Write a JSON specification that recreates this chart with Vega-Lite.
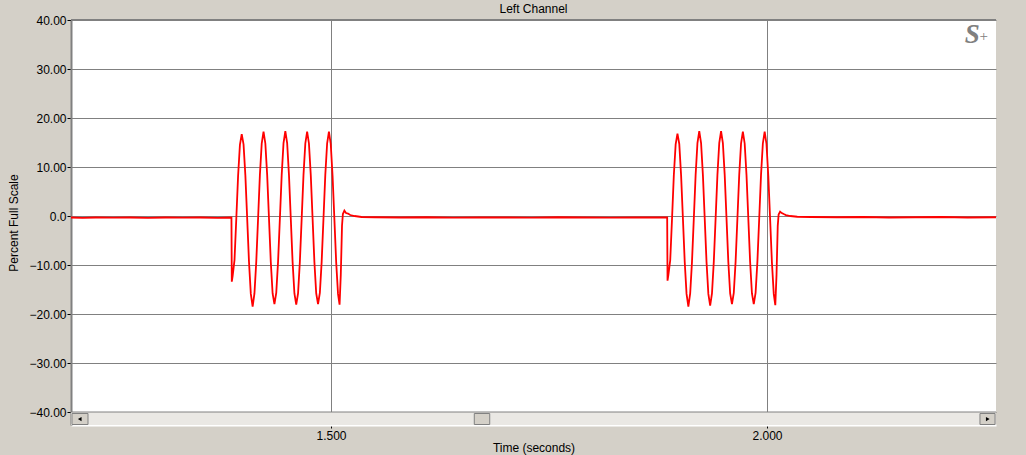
{
  "$schema": "https://vega.github.io/schema/vega-lite/v6.json",
  "autosize": {"type": "none"},
  "padding": {"left": 71, "top": 20, "right": 30, "bottom": 30},
  "width": 925,
  "height": 405,
  "background": "#D4D0C8",
  "title": {"text": "Left Channel", "fontSize": 12, "fontWeight": "normal", "font": "Liberation Sans", "color": "black", "anchor": "middle", "frame": "group", "offset": 6, "dy": 8},
  "datasets": {
    "wave": [
      {"t": 1.2018, "v": -0.3}, {"t": 1.215, "v": -0.4}, {"t": 1.23, "v": -0.3}, {"t": 1.25, "v": -0.35}, {"t": 1.27, "v": -0.3}, {"t": 1.29, "v": -0.4}, {"t": 1.31, "v": -0.3}, {"t": 1.33, "v": -0.35}, {"t": 1.35, "v": -0.3}, {"t": 1.37, "v": -0.4}, {"t": 1.3858, "v": -0.3},
      {"t": 1.3862, "v": -13.4}, {"t": 1.3872, "v": -12.2}, {"t": 1.3893, "v": -9.0}, {"t": 1.39135, "v": -0.6}, {"t": 1.39343, "v": 8.2}, {"t": 1.39552, "v": 14.5},
      {"t": 1.3976, "v": 16.7}, {"t": 1.39968, "v": 14.6}, {"t": 1.40177, "v": 8.3}, {"t": 1.40385, "v": -0.5}, {"t": 1.40593, "v": -9.4}, {"t": 1.40802, "v": -15.9},
      {"t": 1.4101, "v": -18.5}, {"t": 1.41218, "v": -15.8}, {"t": 1.41427, "v": -9.3}, {"t": 1.41635, "v": -0.5}, {"t": 1.41843, "v": 8.4}, {"t": 1.42052, "v": 14.8},
      {"t": 1.4226, "v": 17.2}, {"t": 1.42468, "v": 14.8}, {"t": 1.42677, "v": 8.4}, {"t": 1.42885, "v": -0.5}, {"t": 1.43093, "v": -9.4}, {"t": 1.43302, "v": -15.8},
      {"t": 1.4351, "v": -18.0}, {"t": 1.43718, "v": -15.7}, {"t": 1.43927, "v": -9.3}, {"t": 1.44135, "v": -0.5}, {"t": 1.44343, "v": 8.4}, {"t": 1.44552, "v": 14.9},
      {"t": 1.4476, "v": 17.3}, {"t": 1.44968, "v": 14.9}, {"t": 1.45177, "v": 8.4}, {"t": 1.45385, "v": -0.5}, {"t": 1.45593, "v": -9.4}, {"t": 1.45802, "v": -15.8},
      {"t": 1.4601, "v": -18.1}, {"t": 1.46218, "v": -15.8}, {"t": 1.46427, "v": -9.3}, {"t": 1.46635, "v": -0.5}, {"t": 1.46843, "v": 8.4}, {"t": 1.47052, "v": 14.8},
      {"t": 1.4726, "v": 17.2}, {"t": 1.47468, "v": 14.8}, {"t": 1.47677, "v": 8.4}, {"t": 1.47885, "v": -0.5}, {"t": 1.48093, "v": -9.4}, {"t": 1.48302, "v": -15.8},
      {"t": 1.4851, "v": -18.0}, {"t": 1.48718, "v": -15.7}, {"t": 1.48927, "v": -9.3}, {"t": 1.49135, "v": -0.5}, {"t": 1.49343, "v": 8.4}, {"t": 1.49552, "v": 14.8},
      {"t": 1.4976, "v": 17.2}, {"t": 1.49968, "v": 14.7}, {"t": 1.50177, "v": 8.2}, {"t": 1.50385, "v": -0.6}, {"t": 1.50593, "v": -9.5}, {"t": 1.50802, "v": -15.9},
      {"t": 1.5098, "v": -18.1}, {"t": 1.5112, "v": -12.0}, {"t": 1.5126, "v": -2.0}, {"t": 1.5136, "v": 0.4}, {"t": 1.5153, "v": 1.1}, {"t": 1.5172, "v": 0.6}, {"t": 1.5195, "v": 0.5}, {"t": 1.522, "v": 0.2}, {"t": 1.527, "v": 0.0}, {"t": 1.535, "v": -0.2},
      {"t": 1.55, "v": -0.25}, {"t": 1.58, "v": -0.3}, {"t": 1.61, "v": -0.25}, {"t": 1.64, "v": -0.35}, {"t": 1.67, "v": -0.3}, {"t": 1.7, "v": -0.3}, {"t": 1.73, "v": -0.35}, {"t": 1.76, "v": -0.25}, {"t": 1.79, "v": -0.3}, {"t": 1.82, "v": -0.35}, {"t": 1.85, "v": -0.3}, {"t": 1.87, "v": -0.3}, {"t": 1.8855, "v": -0.3},
      {"t": 1.8859, "v": -13.2}, {"t": 1.8869, "v": -12.0}, {"t": 1.889, "v": -9.0}, {"t": 1.89105, "v": -0.6}, {"t": 1.89313, "v": 8.3}, {"t": 1.89522, "v": 14.6},
      {"t": 1.8973, "v": 16.8}, {"t": 1.89938, "v": 14.7}, {"t": 1.90147, "v": 8.3}, {"t": 1.90355, "v": -0.5}, {"t": 1.90563, "v": -9.4}, {"t": 1.90772, "v": -15.9},
      {"t": 1.9098, "v": -18.5}, {"t": 1.91188, "v": -15.8}, {"t": 1.91397, "v": -9.3}, {"t": 1.91605, "v": -0.5}, {"t": 1.91813, "v": 8.4}, {"t": 1.92022, "v": 14.9},
      {"t": 1.9223, "v": 17.3}, {"t": 1.92438, "v": 14.9}, {"t": 1.92647, "v": 8.4}, {"t": 1.92855, "v": -0.5}, {"t": 1.93063, "v": -9.4}, {"t": 1.93272, "v": -15.9},
      {"t": 1.9348, "v": -18.3}, {"t": 1.93688, "v": -15.8}, {"t": 1.93897, "v": -9.3}, {"t": 1.94105, "v": -0.5}, {"t": 1.94313, "v": 8.4}, {"t": 1.94522, "v": 14.9},
      {"t": 1.9473, "v": 17.3}, {"t": 1.94938, "v": 14.9}, {"t": 1.95147, "v": 8.4}, {"t": 1.95355, "v": -0.5}, {"t": 1.95563, "v": -9.4}, {"t": 1.95772, "v": -15.8},
      {"t": 1.9598, "v": -18.0}, {"t": 1.96188, "v": -15.7}, {"t": 1.96397, "v": -9.3}, {"t": 1.96605, "v": -0.5}, {"t": 1.96813, "v": 8.4}, {"t": 1.97022, "v": 14.8},
      {"t": 1.9723, "v": 17.2}, {"t": 1.97438, "v": 14.8}, {"t": 1.97647, "v": 8.4}, {"t": 1.97855, "v": -0.5}, {"t": 1.98063, "v": -9.4}, {"t": 1.98272, "v": -15.8},
      {"t": 1.9848, "v": -18.0}, {"t": 1.98688, "v": -15.7}, {"t": 1.98897, "v": -9.3}, {"t": 1.99105, "v": -0.5}, {"t": 1.99313, "v": 8.4}, {"t": 1.99522, "v": 14.8},
      {"t": 1.9973, "v": 17.2}, {"t": 1.99938, "v": 14.7}, {"t": 2.00147, "v": 8.2}, {"t": 2.00355, "v": -0.6}, {"t": 2.00563, "v": -9.5}, {"t": 2.00772, "v": -15.9},
      {"t": 2.0095, "v": -18.2}, {"t": 2.0109, "v": -12.0}, {"t": 2.0123, "v": -2.0}, {"t": 2.0133, "v": 0.3}, {"t": 2.015, "v": 0.9}, {"t": 2.0169, "v": 0.6}, {"t": 2.0192, "v": 0.4}, {"t": 2.0217, "v": 0.2}, {"t": 2.0267, "v": 0.0}, {"t": 2.0347, "v": -0.15},
      {"t": 2.05, "v": -0.2}, {"t": 2.08, "v": -0.25}, {"t": 2.11, "v": -0.2}, {"t": 2.14, "v": -0.3}, {"t": 2.17, "v": -0.25}, {"t": 2.2, "v": -0.2}, {"t": 2.23, "v": -0.3}, {"t": 2.2626, "v": -0.25}
    ],
    "one": [{}]
  },
  "layer": [
    {
      "data": {"name": "wave"},
      "mark": {"type": "line", "color": "#FF0000", "strokeWidth": 1.8, "clip": true},
      "encoding": {
        "x": {
          "field": "t", "type": "quantitative",
          "scale": {"domain": [1.2018, 2.2626], "nice": false, "zero": false},
          "axis": {
            "values": [1.5, 2.0], "format": ".3f", "title": "Time (seconds)",
            "grid": true, "gridColor": "#808080", "gridWidth": 1, "gridOpacity": 1,
            "domainColor": "#FFFFFF", "domainWidth": 2,
            "tickColor": "#000000", "tickSize": 3, "tickWidth": 1,
            "labelFont": "Liberation Sans", "labelFontSize": 12, "labelColor": "#000000", "labelPadding": 2,
            "titleFont": "Liberation Sans", "titleFontSize": 12, "titleFontWeight": "normal", "titleColor": "#000000", "titlePadding": 1
          }
        },
        "y": {
          "field": "v", "type": "quantitative",
          "scale": {"domain": [-42.65, 40], "nice": false, "zero": false},
          "axis": {
            "values": [-40, -30, -20, -10, 0, 10, 20, 30, 40],
            "labelExpr": "datum.value == 0 ? '0.0' : format(datum.value, '.2f')",
            "title": "Percent Full Scale",
            "grid": true, "gridColor": "#808080", "gridWidth": 1, "gridOpacity": 1,
            "domainColor": "#808080", "domainWidth": 2,
            "tickColor": "#000000", "tickSize": 4, "tickWidth": 1,
            "labelFont": "Liberation Sans", "labelFontSize": 12, "labelColor": "#000000", "labelPadding": 1,
            "titleFont": "Liberation Sans", "titleFontSize": 12, "titleFontWeight": "normal", "titleColor": "#000000", "titlePadding": 8
          }
        }
      }
    },
    {
      "data": {"name": "one"},
      "mark": {"type": "rect", "fill": "#EAE8E4"},
      "encoding": {"x": {"datum": 1.2018}, "x2": {"datum": 2.2626}, "y": {"datum": -40}, "y2": {"datum": -42.65}}
    },
    {
      "data": {"name": "one"},
      "mark": {"type": "rule", "color": "#808080", "strokeWidth": 1},
      "encoding": {"x": {"datum": 1.2018}, "x2": {"datum": 2.2626}, "y": {"datum": -40}}
    },
    {
      "data": {"name": "one"},
      "mark": {"type": "rule", "color": "#808080", "strokeWidth": 2},
      "encoding": {"x": {"datum": 1.2018}, "x2": {"datum": 2.2626}, "y": {"datum": 40}}
    },
    {
      "data": {"name": "one"},
      "mark": {"type": "rect", "fill": "#D4D0C8", "stroke": "#808080", "strokeWidth": 1},
      "encoding": {"x": {"datum": 1.2029}, "x2": {"datum": 1.2213}, "y": {"datum": -40.3}, "y2": {"datum": -42.55}}
    },
    {
      "data": {"name": "one"},
      "mark": {"type": "rect", "fill": "#D4D0C8", "stroke": "#808080", "strokeWidth": 1},
      "encoding": {"x": {"datum": 1.6643}, "x2": {"datum": 1.682}, "y": {"datum": -40.3}, "y2": {"datum": -42.55}}
    },
    {
      "data": {"name": "one"},
      "mark": {"type": "rect", "fill": "#D4D0C8", "stroke": "#808080", "strokeWidth": 1},
      "encoding": {"x": {"datum": 2.2442}, "x2": {"datum": 2.2615}, "y": {"datum": -40.3}, "y2": {"datum": -42.55}}
    },
    {
      "data": {"name": "one"},
      "mark": {"type": "point", "shape": "triangle-left", "filled": true, "color": "#000000", "size": 18, "opacity": 1},
      "encoding": {"x": {"datum": 1.2118}, "y": {"datum": -41.43}}
    },
    {
      "data": {"name": "one"},
      "mark": {"type": "point", "shape": "triangle-right", "filled": true, "color": "#000000", "size": 18, "opacity": 1},
      "encoding": {"x": {"datum": 2.2532}, "y": {"datum": -41.43}}
    },
    {
      "data": {"name": "one"},
      "mark": {"type": "text", "text": "S", "font": "Liberation Serif", "fontStyle": "italic", "fontWeight": "bold", "fontSize": 27, "color": "#808080", "align": "center", "baseline": "middle"},
      "encoding": {"x": {"datum": 2.2355}, "y": {"datum": 37.0}}
    },
    {
      "data": {"name": "one"},
      "mark": {"type": "text", "text": "+", "font": "Liberation Serif", "fontSize": 15, "color": "#808080", "align": "center", "baseline": "middle"},
      "encoding": {"x": {"datum": 2.2485}, "y": {"datum": 36.7}}
    }
  ],
  "config": {
    "view": {"fill": "#FFFFFF", "stroke": null},
    "font": "Liberation Sans"
  }
}
